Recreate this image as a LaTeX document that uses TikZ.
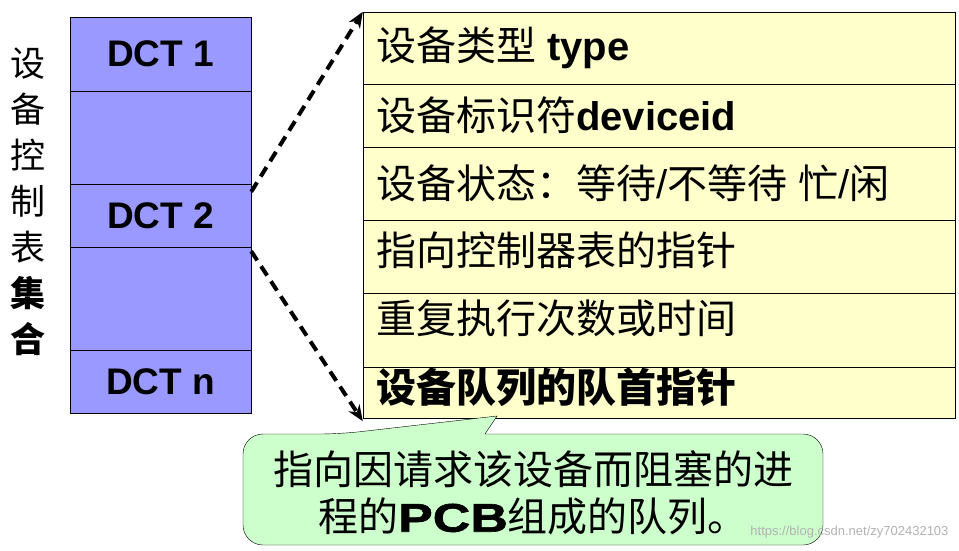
\documentclass[tikz,border=0pt]{standalone}
\usepackage{fontspec}
\setmainfont{Liberation Sans}
\newfontfamily\cjk{Noto Sans CJK SC}
\newfontfamily\widefont[FakeStretch=1.3,FakeBold=1.5]{Liberation Sans Bold}
\usetikzlibrary{arrows.meta}
\definecolor{dctblue}{RGB}{153,153,255}
\definecolor{rowyellow}{RGB}{255,255,204}
\definecolor{notegreen}{RGB}{204,255,204}
\tikzset{
    dctbox/.style={draw, fill=dctblue, minimum width=181pt, inner sep=0pt, font=\fontsize{37}{40}\selectfont\bfseries},
    rowbox/.style={draw, fill=rowyellow, minimum width=592pt, inner sep=0pt},
    rowtext/.style={anchor=west, inner sep=0pt},
    link/.style={line width=4pt, dash pattern=on 11pt off 7pt, -{Stealth[length=16pt,width=13pt]}}
}
\begin{document}
\begin{tikzpicture}[x=1pt, y=-1pt, font=\fontsize{40}{40}\selectfont]
    \useasboundingbox (0,0) rectangle (959,550);
    % left column
    \node[font=\fontsize{35}{46}\selectfont\cjk, align=center] (title) at (28,202) {设\\备\\控\\制\\表\\{\bfseries 集}\\{\bfseries 合}};
    \node[dctbox, minimum height=74pt] (dct1) at (160.5,54) {DCT 1};
    \node[dctbox, minimum height=93pt] (gap1) at (160.5,137.5) {};
    \node[dctbox, minimum height=63pt] (dct2) at (160.5,215.5) {DCT 2};
    \node[dctbox, minimum height=103pt] (gap2) at (160.5,298.5) {};
    \node[dctbox, minimum height=63pt] (dctn) at (160.5,381.5) {DCT n};
    % right table
    \node[rowbox, minimum height=72pt] (type) at (659,48) {};
    \node[rowbox, minimum height=63pt] (devid) at (659,115.5) {};
    \node[rowbox, minimum height=73pt] (state) at (659,183.5) {};
    \node[rowbox, minimum height=73pt] (ctrl) at (659,256.5) {};
    \node[rowbox, minimum height=74pt] (repeat) at (659,330) {};
    \node[rowbox, minimum height=51pt] (queue) at (659,392.5) {};
    \node[rowtext] (ttype) at (376,48) {{\cjk 设备类型} \textbf{type}};
    \node[rowtext] (tdevid) at (376,115) {{\cjk 设备标识符}\textbf{deviceid}};
    \node[rowtext] (tstate) at (376,183) {{\cjk 设备状态：等待}/{\cjk 不等待} {\cjk 忙}/{\cjk 闲}};
    \node[rowtext] (tctrl) at (376,250) {\cjk 指向控制器表的指针};
    \node[rowtext] (trepeat) at (376,318) {\cjk 重复执行次数或时间};
    \node[rowtext] (tqueue) at (376,387) {\cjk\bfseries 设备队列的队首指针};
    % links
    \draw[link] ([yshift=-8pt]dct2.north east) -- (type.north west);
    \draw[link] ([yshift=-4pt]dct2.south east) -- ([yshift=-3pt]queue.south west);
    % callout
    \coordinate (tip) at (497,416);
    \draw[fill=notegreen, rounded corners=20pt] (243,490) |- (340,434) [sharp corners] -- (tip) -- (485,434) [rounded corners=20pt] -| (823,490) |- (243,545) -- cycle;
    \node[align=center, font=\fontsize{40}{47}\selectfont\cjk] (note) at (533,493) {指向因请求该设备而阻塞的进\\程的{\widefont PCB}组成的队列。};
    \node[text=gray!60, font=\fontsize{13}{13}\selectfont, anchor=south east] (mark) at (952,542) {https://blog.csdn.net/zy702432103};
\end{tikzpicture}
\end{document}
